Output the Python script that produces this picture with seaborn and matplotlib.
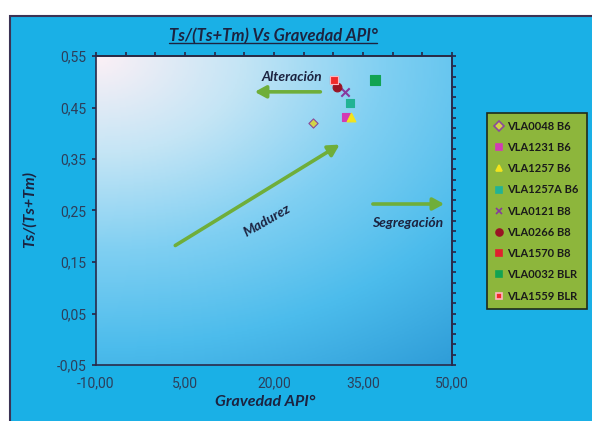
import numpy as np
import pandas as pd
import matplotlib
matplotlib.use("Agg")
import matplotlib.pyplot as plt
from matplotlib.colors import LinearSegmentedColormap
from matplotlib.patches import Rectangle
from matplotlib.lines import Line2D
from matplotlib.ticker import FuncFormatter
import seaborn as sns

# Datos
muestras = ["VLA0048 B6", "VLA1231 B6", "VLA1257 B6", "VLA1257A B6", "VLA0121 B8",
            "VLA0266 B8", "VLA1570 B8", "VLA0032 BLR", "VLA1559 BLR"]
api = [26.5, 32.2, 33.0, 32.8, 32.0, 30.7, 30.1, 37.0, 30.1]
ts_tm = [0.419, 0.431, 0.431, 0.458, 0.481, 0.489, 0.503, 0.503, 0.503]

marcadores = ["D", "s", "^", "s", "x", "o", "s", "s", "s"]
colores = ["#d2d447", "#d23cb4", "#f2e41c", "#22b394", "#86399e", "#9a1424", "#e0202e", "#12a352", "#f02a2a"]
bordes = ["#8a4a9a", "#d23cb4", "#f2e41c", "#22b394", "#86399e", "#9a1424", "#e0202e", "#12a352", "#ffb6c0"]
tamanos = [22, 40, 40, 40, 36, 40, 40, 60, 30]

df = pd.DataFrame({"muestra": muestras, "api": api, "ts": ts_tm})

sns.set_theme(style="white")
plt.rcParams["font.family"] = ["Lato", "DejaVu Sans"]

txt_oscuro = "#1c2340"
fig = plt.figure(figsize=(5.92, 4.21), dpi=100)
fig.patch.set_facecolor("white")

# panel azul de fondo
panel = Rectangle((10 / 592, -0.01), 1.0, 1 - 16 / 421 + 0.01, transform=fig.transFigure,
                  facecolor="#1ab0e6", edgecolor="#3b3355", lw=1.5, zorder=-5)
fig.add_artist(panel)

ax = fig.add_axes([96 / 592, 56 / 421, 356 / 592, 309 / 421])
ax.set_zorder(1)

# degradado del area de trazado (fila 0 = arriba)
gx, gy = np.meshgrid(np.linspace(0, 1, 200), np.linspace(0, 1, 200))
t = np.sqrt(0.75 * gx ** 2 + 1.25 * gy ** 2) / np.sqrt(2)
cmap = LinearSegmentedColormap.from_list("fondo", [(0, "#fcf0f6"), (0.25, "#c4e5f5"), (0.5, "#7fcff2"),
                                                   (0.75, "#4cbcec"), (1.0, "#2f9dd8")])
ax.imshow(t, cmap=cmap, extent=(-10, 50, -0.05, 0.55), aspect="auto", origin="upper", zorder=0)

handles = []
for i, m in enumerate(muestras):
    sub = df[df["muestra"] == m]
    lw = 1.5 if marcadores[i] == "x" else 0.8
    sns.scatterplot(data=sub, x="api", y="ts", marker=marcadores[i], color=colores[i],
                    edgecolor=bordes[i] if marcadores[i] != "x" else None, s=tamanos[i],
                    linewidth=lw, ax=ax, zorder=3, legend=False)
    handles.append(Line2D([], [], ls="none", marker=marcadores[i], markerfacecolor=colores[i],
                          markeredgecolor=bordes[i] if marcadores[i] != "x" else colores[i],
                          color=colores[i], markersize=5, markeredgewidth=1.2))

ax.set_xlim(-10, 50)
ax.set_ylim(-0.05, 0.55)
ax.set_xlabel("")
ax.set_ylabel("")
ax.set_xticks(np.arange(-10, 51, 15))
ax.set_yticks(np.arange(-0.05, 0.56, 0.1))
ax.xaxis.set_major_formatter(FuncFormatter(lambda v, p: f"{v:.2f}".replace(".", ",")))
ax.yaxis.set_major_formatter(FuncFormatter(lambda v, p: f"{v:.2f}".replace(".", ",")))
ax.tick_params(axis="x", length=0, pad=8, labelsize=10, labelcolor="#2d3e5a")
ax.tick_params(axis="y", length=3, direction="out", color="#2a2a4a", pad=4, labelsize=10, labelcolor="#2d3e5a",
               left=True)
for lab in ax.get_xticklabels() + ax.get_yticklabels():
    lab.set_family(["Roboto", "DejaVu Sans"])
for s in ax.spines.values():
    s.set_color("#2a2a4a")
    s.set_linewidth(1.2)

arriba = ax.secondary_xaxis("top")
arriba.set_xticks(np.arange(-10, 51, 5))
arriba.tick_params(length=3, direction="out", color="#2a2a4a", labeltop=False, top=True)
derecha = ax.secondary_yaxis("right")
derecha.set_yticks(np.arange(-0.05, 0.56, 0.02))
derecha.tick_params(length=3, direction="out", color="#2a2a4a", labelright=False, right=True)
derecha.spines["right"].set_color("#2a2a4a")

# flechas y textos
flecha = dict(arrowstyle="-|>,head_length=0.55,head_width=0.3", color="#6fae3a", lw=2.6)
ax.annotate("", xy=(0.438, 0.884), xytext=(0.638, 0.884), xycoords="axes fraction", arrowprops=flecha, zorder=4)
ax.annotate("", xy=(0.691, 0.718), xytext=(0.216, 0.382), xycoords="axes fraction", arrowprops=flecha, zorder=4)
ax.annotate("", xy=(0.986, 0.521), xytext=(0.770, 0.521), xycoords="axes fraction", arrowprops=flecha, zorder=4)
estilo = dict(fontsize=10, fontweight="bold", fontstyle="italic", color=txt_oscuro, transform=ax.transAxes)
ax.text(0.551, 0.932, "Alteración", ha="center", va="center", **estilo)
ax.text(0.480, 0.469, "Madurez", ha="center", va="center", rotation=30, **estilo)
ax.text(0.874, 0.460, "Segregación", ha="center", va="center", **estilo)

# titulo subrayado
titulo = fig.text(273 / 592, 1 - 36 / 421, "Ts/(Ts+Tm) Vs Gravedad API°", ha="center", va="center",
                  fontsize=12, fontweight="bold", fontstyle="italic", color=txt_oscuro)
fig.canvas.draw()
bb = titulo.get_window_extent().transformed(fig.transFigure.inverted())
fig.add_artist(Line2D([bb.x0, bb.x1], [bb.y0 + 0.002, bb.y0 + 0.002], transform=fig.transFigure,
                      color=txt_oscuro, lw=1.0))

fig.text(30 / 592, 1 - 210 / 421, "Ts/(Ts+Tm)", rotation=90, ha="center", va="center",
         fontsize=11.5, fontweight="bold", fontstyle="italic", color=txt_oscuro)
fig.text(265 / 592, 1 - 402 / 421, "Gravedad API°", ha="center", va="center",
         fontsize=11.5, fontweight="bold", fontstyle="italic", color=txt_oscuro)

ley = ax.legend(handles, muestras, loc="upper left", bbox_to_anchor=(487 / 592, 1 - 113 / 421),
                bbox_transform=fig.transFigure, frameon=True, fancybox=False, facecolor="#8db63c",
                edgecolor="#1f2a1a", framealpha=1, handlelength=0.8, handletextpad=0.35,
                labelspacing=0.92, borderpad=0.7, borderaxespad=0, prop={"weight": "bold", "size": 8})
ley.get_frame().set_linewidth(1.2)
for tx in ley.get_texts():
    tx.set_color("#1a1a1a")

fig.savefig("out.png", dpi=100)
